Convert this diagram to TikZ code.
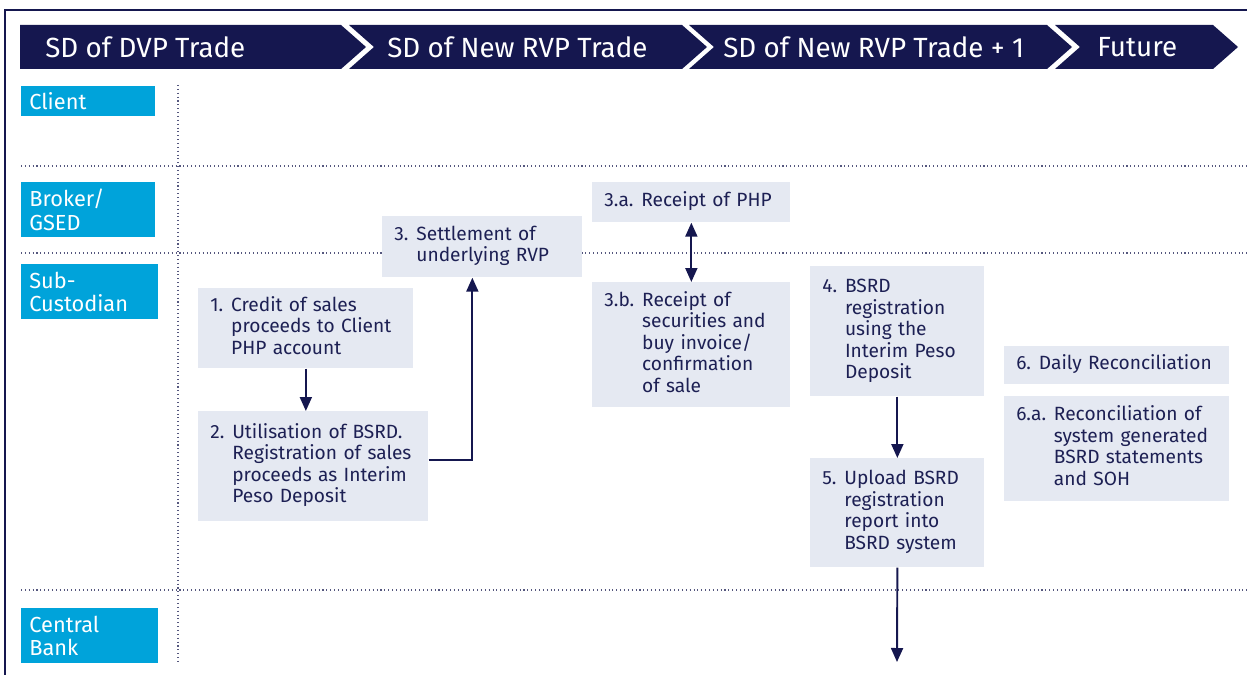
\documentclass[tikz,border=0pt]{standalone}
\usepackage{fontspec}
\setmainfont{Fira Sans}
\usetikzlibrary{arrows.meta}
\definecolor{phasenavy}{HTML}{15174F}
\definecolor{lanecyan}{HTML}{00A3DA}
\definecolor{stepfill}{HTML}{E5E9F2}
\definecolor{inknavy}{HTML}{1D2054}
\definecolor{dotgrey}{HTML}{55577E}
\newdimen\px \px=0.02cm
% number in its own column, the rest hangs under the first word
\newcommand{\stepitem}[2]{\begin{tabular}[t]{@{}l@{\hspace{4.5pt}}l@{}}#1&\begin{tabular}[t]{@{}l@{}}#2\end{tabular}\end{tabular}}
\tikzset{
  phasetext/.style={text=white, font=\fontsize{15.8}{18}\selectfont, anchor=west, inner sep=0pt},
  lane/.style n args={2}{fill=lanecyan, text=white, font=\fontsize{12.4}{13.2}\selectfont,
    anchor=north west, align=left, inner xsep=8*\px, inner ysep=0pt,
    text width=#1*\px-16*\px, minimum height=#2*\px},
  stepbox/.style n args={2}{fill=stepfill, text=inknavy, font=\fontsize{10.9}{12.2}\selectfont,
    anchor=north west, align=left, inner xsep=12*\px, inner ysep=0pt,
    text width=#1*\px-24*\px, minimum height=#2*\px},
  lanesep/.style={dotgrey, line width=0.8pt, dash pattern=on 0.6pt off 1.6pt},
  flow/.style={draw=phasenavy, line width=1.1pt, -{Triangle[width=0.24cm,length=0.28cm]}},
}
\begin{document}
\begin{tikzpicture}[x=0.02cm, y=-0.02cm]
  \useasboundingbox (0,0) rectangle (1247,675);
  % frame
  \draw[phasenavy, line width=0.9pt] (5,675) -- (5,10) -- (1247,10);

  % phase banner
  \foreach \xl/\xr/\nd/\tx/\lbl [count=\i] in {20/341/0/45/SD of DVP Trade,
      349/682/25/387/SD of New RVP Trade,
      689/1047/25/723/SD of New RVP Trade + 1,
      1055/1213/25/1097/Future} {
    \fill[phasenavy] (\xl,25) -- (\xr,25) -- (\xr+25,47) -- (\xr,69) -- (\xl,69) -- (\xl+\nd,47) -- cycle;
    \node[phasetext] (ph\i) at (\tx,47) {\lbl};
  }

  % swimlane separators
  \draw[lanesep] (178,85) -- (178,663);
  \foreach \y in {166,253,590}
    \draw[lanesep] (21,\y) -- (1247,\y);

  % lanes
  \node[lane={134}{30}] (client) at (21,86) {Client};
  \node[lane={134}{55}] (broker) at (21,182) {Broker/\\GSED};
  \node[lane={137}{55}] (subcust) at (21,264) {Sub-\\Custodian};
  \node[lane={137}{55}] (cbank) at (21,608) {Central\\Bank};

  % steps
  \node[stepbox={215}{80}] (s1) at (198,288) {\stepitem{1.}{Credit of sales\\proceeds to Client\\PHP account}};
  \node[stepbox={230}{110}] (s2) at (198,411) {\stepitem{2.}{Utilisation of BSRD.\\Registration of sales\\proceeds as Interim\\Peso Deposit}};
  \node[stepbox={200}{61}] (s3) at (382,216) {\stepitem{3.}{Settlement of\\underlying RVP}};
  \node[stepbox={198}{40}] (s3a) at (592,182) {\stepitem{3.a.}{Receipt of PHP}};
  \node[stepbox={198}{125}] (s3b) at (592,282) {\stepitem{3.b.}{Receipt of\\securities and\\buy invoice/\\confirmation\\of sale}};
  \node[stepbox={174}{130}] (s4) at (810,266) {\stepitem{4.}{BSRD\\registration\\using the\\Interim Peso\\Deposit}};
  \node[stepbox={174}{109}] (s5) at (810,458) {\stepitem{5.}{Upload BSRD\\registration\\report into\\BSRD system}};
  \node[stepbox={225}{38}] (s6) at (1004,346) {\stepitem{6.}{Daily Reconciliation}};
  \node[stepbox={225}{105}] (s6a) at (1004,396) {\stepitem{6.a.}{Reconciliation of\\system generated\\BSRD statements\\and SOH}};

  % connectors
  \coordinate (cbin) at (897,662);
  \draw[flow] (s1.south) -- (s1.south |- s2.north);
  \draw[flow] ([yshift=6*\px]s2.east) -| ([xshift=-10*\px]s3.south);
  \draw[flow, {Triangle[width=0.24cm,length=0.28cm]}-{Triangle[width=0.24cm,length=0.28cm]}] (s3a.south) -- (s3b.north);
  \draw[flow] (s4.south) -- (s5.north);
  \draw[flow] (s5.south) -- (cbin);
\end{tikzpicture}
\end{document}
